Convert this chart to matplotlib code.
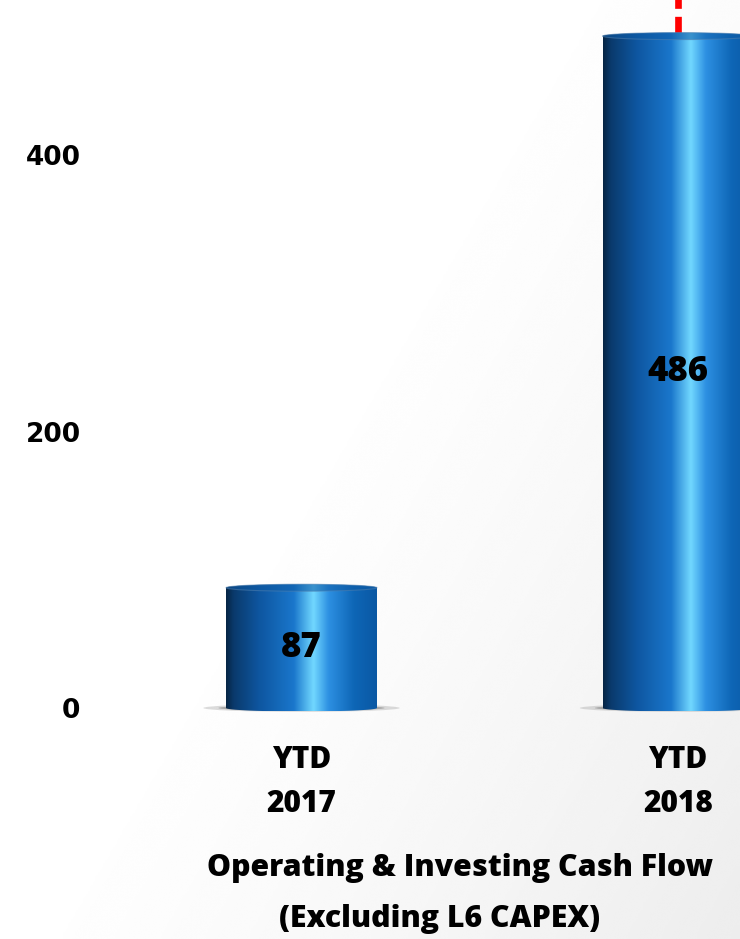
import numpy as np
import matplotlib.pyplot as plt
from matplotlib.colors import LinearSegmentedColormap
from matplotlib.patches import Ellipse, PathPatch
from matplotlib.path import Path

# cash flow figures (USD m)
categories = ["YTD\n2017", "YTD\n2018"]
values = [87, 486]
yticks = [0, 200, 400]
title_lines = ["Operating & Investing Cash Flow", "(Excluding L6 CAPEX)"]

W, H = 740, 939
fig = plt.figure(figsize=(W / 100, H / 100), dpi=100)
label_font = "Open Sans"
label_weight = 800

# soft grey wash towards the lower right
bg = fig.add_axes([0, 0, 1, 1], zorder=-10)
gx, gy = np.meshgrid(np.linspace(0, 1, 300), np.linspace(1, 0, 300))
shade = np.clip(0.75 * gx + 0.55 * (1 - gy) - 0.55, 0, 1) ** 1.2
bg.imshow(1 - 0.1 * shade, cmap="gray", vmin=0, vmax=1, extent=[0, 1, 0, 1],
          aspect="auto", interpolation="bicubic")
bg.axis("off")

# axes placed in pixel terms
ax_top, ax_bot, ax_left = 0, 720, 100
ax = fig.add_axes([ax_left / W, (H - ax_bot) / H, (W - ax_left) / W, (ax_bot - ax_top) / H])
ax.patch.set_alpha(0)
px_per_unit = 276.5 / 200
ylo, yhi = -12 / px_per_unit, 708 / px_per_unit
x_per_px = 1 / 376.5
xlo, xhi = -201.5 * x_per_px, 1 + 62 * x_per_px

cyl = LinearSegmentedColormap.from_list("cyl", [
    (0.00, "#062544"), (0.05, "#0a3a6c"), (0.22, "#0e56a0"),
    (0.45, "#1a77cc"), (0.58, "#72d8ff"), (0.68, "#2d90e2"),
    (0.85, "#0e66b6"), (1.00, "#0a58a4")])
grad = np.linspace(0, 1, 256).reshape(1, -1)

bar_w = 151 * x_per_px
ey = 3.5 / px_per_unit  # half height of the elliptical ends


def half_arc(cx, cy, w, h, a0, a1, n=40):
    t = np.linspace(a0, a1, n)
    return np.column_stack([cx + w / 2 * np.cos(t), cy + h * np.sin(t)])


for i, v in enumerate(values):
    x0, x1 = i - bar_w / 2, i + bar_w / 2
    # ground shadow
    ax.add_patch(Ellipse((i, 0), bar_w * 1.3, 2.2 * ey, color="#9a9a9a", alpha=0.35,
                         lw=0, zorder=2))
    ax.add_patch(Ellipse((i, 0), bar_w * 1.1, 1.6 * ey, color="#606060", alpha=0.4,
                         lw=0, zorder=2))
    top = half_arc(i, v, bar_w, ey, np.pi, 0)
    bottom = half_arc(i, 0, bar_w, ey, 0, -np.pi)
    verts = np.vstack([[[x0, 0]], top, bottom, [[x0, 0]]])
    clip = PathPatch(Path(verts), facecolor="none", edgecolor="none")
    ax.add_patch(clip)
    im = ax.imshow(grad, cmap=cyl, extent=[x0, x1, -ey, v + ey], aspect="auto",
                   interpolation="bicubic", zorder=3)
    im.set_clip_path(clip)
    # lid rim
    ax.add_patch(Ellipse((i, v), bar_w, 2 * ey, facecolor="#0d5aa4", edgecolor="#4f7fae",
                         lw=0.8, alpha=0.55, zorder=4))
    ax.text(i, v / 2, str(v), ha="center", va="center", fontsize=25,
            fontweight=label_weight, family=label_font, color="black", zorder=5)

# dashed marker rising from the 2018 bar
ax.vlines(1, values[1] + ey, yhi + 10, colors="#ff0000", linewidth=4.8,
          linestyles=(0, (2.5, 1.2)), zorder=1)

ax.set_xlim(xlo, xhi)
ax.set_ylim(ylo, yhi)
ax.set_yticks(yticks)
ax.set_yticklabels([str(t) for t in yticks], fontsize=19, fontweight="bold",
                   family="DejaVu Sans")
ax.set_xticks(range(len(categories)))
ax.set_xticklabels(categories, fontsize=21.5, fontweight=label_weight, family=label_font,
                   linespacing=1.6)
ax.tick_params(axis="y", length=0, pad=14)
ax.tick_params(axis="x", length=0, pad=18)
for s in ax.spines.values():
    s.set_visible(False)

fig.text(460 / W, 1 - 868 / H, title_lines[0], ha="center", va="center",
         fontsize=21.8, fontweight=label_weight, family=label_font)
fig.text(440 / W, 1 - 919 / H, title_lines[1], ha="center", va="center",
         fontsize=21.8, fontweight=label_weight, family=label_font)

fig.savefig("out.png", dpi=100)
